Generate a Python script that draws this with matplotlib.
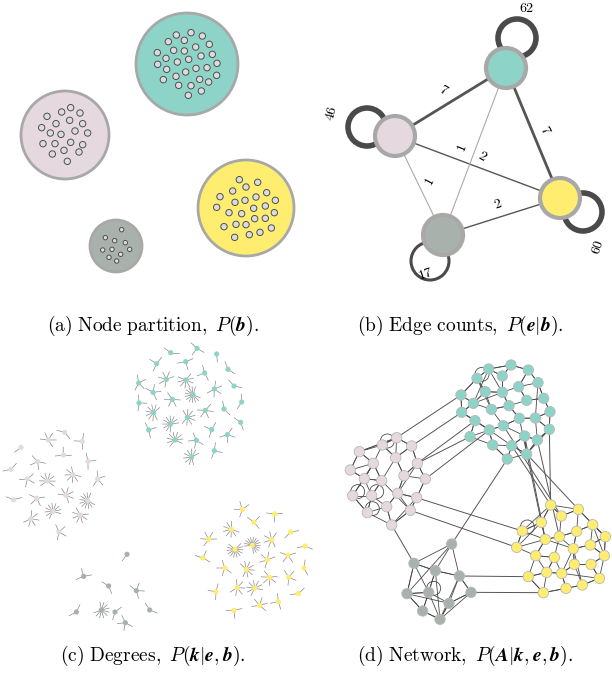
import numpy as np
import matplotlib
matplotlib.use("Agg")
import matplotlib.pyplot as plt
from matplotlib.patches import Circle

plt.rcParams["mathtext.fontset"] = "cm"
plt.rcParams["font.family"] = "DejaVu Serif"

cores = {"teal": "#8dd3c7", "pink": "#e6d8df", "yellow": "#ffed6f", "gray": "#a9b1ad"}
grupos = ["teal", "pink", "yellow", "gray"]

# (a) circulos dos grupos: centro x, centro y, raio (pixels)
circ_a = {"teal": (187, 64, 51), "pink": (65, 135, 44), "yellow": (246, 208, 48), "gray": (116, 246, 26)}
nos_a = {
    "teal": [(529,105),(573,98),(607,108),(505,125),(553,121),(628,133),(472,158),(521,151),(553,153),(587,141),
             (637,163),(498,175),(532,186),(566,178),(603,168),(473,193),(651,190),(500,208),(557,216),(588,205),
             (621,203),(528,229),(490,239),(599,238),(626,246),(650,226),(536,256),(573,257),(604,273),(565,286)],
    "pink": [(141,349),(185,336),(212,323),(240,339),(168,371),(209,361),(248,371),(125,383),(151,399),(183,403),
             (225,393),(263,399),(129,431),(165,431),(212,427),(248,434),(157,462),(192,451),(237,456),(202,484)],
    "yellow": [(718,539),(773,547),(738,561),(698,573),(800,578),(660,590),(705,607),(735,601),(768,591),(826,601),
               (650,622),(687,638),(725,641),(761,625),(796,618),(823,638),(708,673),(738,674),(764,656),(796,655),
               (672,680),(748,704),(780,697),(814,684),(704,712)],
    "gray": [(365,689),(316,713),(344,722),(376,728),(308,750),(336,748),(389,748),(362,763),(327,772),(350,783)],
}

# (b) contagens de arestas
pos_b = {"teal": (506, 68), "pink": (395, 136), "yellow": (560, 198), "gray": (443, 235)}
laco_b = {"teal": (517, 38, 62), "pink": (367, 127, 46), "yellow": (583, 212, 60), "gray": (430, 261, 17)}
arestas_b = [("teal", "pink", 7), ("teal", "yellow", 7), ("pink", "yellow", 2),
             ("teal", "gray", 1), ("pink", "gray", 1), ("gray", "yellow", 2)]
rotulos_b = [(527, 8, "62", 0), (331, 113, "46", 75), (598, 247, "60", 72), (426, 274, "17", 18),
             (444, 90, "7", -30), (545, 130, "7", -62), (462, 148, "1", 68), (483, 156, "2", -30),
             (430, 182, "1", 62), (498, 204, "2", 20)]

# (c) graus: x, y, grau (coordenadas do zoom)
nos_c = {
    "teal": [(512,68,2),(591,55,3),(650,72,1),(470,101,3),(557,95,3),(684,118,2),(614,129,3),(416,159,4),(499,148,6),
             (557,150,8),(459,187,4),(579,194,12),(643,177,5),(702,168,2),(517,208,5),(417,219,3),(461,248,9),
             (616,241,5),(672,237,2),(725,216,2),(562,262,8),(512,282,10),(722,277,2),(446,300,3),(635,299,3),
             (682,314,4),(525,330,9),(589,331,4),(643,362,3),(575,381,9)],
    "pink": [(194,307,2),(145,330,5),(247,334,3),(63,352,1),(190,375,3),(113,395,4),(264,394,3),(33,418,2),(82,447,4),
             (142,453,8),(219,434,7),(293,447,4),(41,509,2),(110,505,4),(198,496,6),(263,512,11),(93,566,6),
             (159,544,10),(241,555,7),(177,606,4)],
    "yellow": [(727,538,4),(824,552,3),(762,577,3),(694,598,8),(872,606,2),(626,628,5),(705,658,12),(757,646,14),
               (815,629,6),(915,648,2),(609,684,3),(674,714,4),(739,718,8),(802,690,5),(864,676,4),(912,714,2),
               (648,785,3),(711,773,6),(764,775,8),(808,742,6),(866,742,4),(895,791,2),(702,841,3),(779,826,5),
               (835,815,3)],
    "gray": [(381,673,1),(251,739,3),(326,768,2),(409,782,4),(229,846,2),(304,840,10),(449,840,2),(376,878,4),
             (345,846,2)],
}

# (d) rede
nos_d = {
    "teal": [(476,117),(543,105),(595,120),(441,145),(517,138),(566,170),(624,158),(393,195),(466,185),(517,187),
             (590,211),(641,205),(430,220),(484,238),(537,227),(395,247),(435,272),(568,265),(616,264),(660,245),
             (478,300),(520,287),(584,318),(622,330),(658,298),(420,320),(488,345),(545,347),(590,372),(532,387)],
    "pink": [(200,323),(157,345),(245,348),(88,365),(197,383),(130,400),(262,400),(61,420),(103,446),(155,452),
             (222,437),(286,447),(68,497),(125,497),(203,490),(260,503),(112,548),(170,530),(241,541),(185,585)],
    "yellow": [(662,525),(745,538),(694,558),(634,577),(788,584),(577,603),(646,628),(688,620),(740,604),(826,620),
               (560,652),(617,677),(673,682),(730,656),(781,645),(823,677),(595,740),(650,727),(695,730),(733,703),
               (783,703),(808,745),(640,788),(708,775),(757,765)],
    "gray": [(365,642),(252,700),(316,722),(388,738),(231,791),(296,787),(357,820),(423,787),(278,843),(330,868)],
}
entre_d = [("teal", 7, "pink", 0), ("teal", 15, "pink", 2), ("teal", 16, "pink", 6), ("teal", 29, "gray", 0),
           ("teal", 27, "yellow", 0), ("teal", 28, "yellow", 1), ("teal", 24, "yellow", 0), ("teal", 17, "yellow", 3),
           ("teal", 21, "yellow", 2), ("pink", 15, "yellow", 5), ("pink", 18, "yellow", 10), ("pink", 19, "gray", 1),
           ("gray", 3, "yellow", 16), ("gray", 7, "yellow", 22), ("pink", 11, "teal", 20), ("teal", 23, "yellow", 7),
           ("teal", 22, "yellow", 6), ("pink", 6, "teal", 25)]
lacos_d = [("pink", 1), ("pink", 12), ("pink", 16), ("pink", 13), ("gray", 5), ("yellow", 5), ("teal", 3)]

legendas = [(153, 326, r"$\mathrm{(a)\ Node\ partition,}\ P(\boldsymbol{b}).$"),
            (460, 326, r"$\mathrm{(b)\ Edge\ counts,}\ P(\boldsymbol{e}|\boldsymbol{b}).$"),
            (153, 656, r"$\mathrm{(c)\ Degrees,}\ P(\boldsymbol{k}|\boldsymbol{e},\boldsymbol{b}).$"),
            (465, 656, r"$\mathrm{(d)\ Network,}\ P(\boldsymbol{A}|\boldsymbol{k},\boldsymbol{e},\boldsymbol{b}).$")]

fig = plt.figure(figsize=(6.12, 6.83), dpi=100)
ax = fig.add_axes([0, 0, 1, 1])
ax.set_xlim(0, 612)
ax.set_ylim(683, 0)
ax.set_aspect("equal")
ax.axis("off")

# painel (a)
for g in grupos:
    cx, cy, r = circ_a[g]
    ax.add_patch(Circle((cx, cy), r, fc=cores[g], ec="#a8a8a8", lw=2, zorder=1))
    for x, y in nos_a[g]:
        rr = 2.2 if g == "gray" else 3.2
        ax.add_patch(Circle((x / 3, y / 3), rr, fc="#dcdcdc", ec="#505050", lw=0.7, zorder=2))

# painel (b)
for g in grupos:
    lx, ly, n = laco_b[g]
    ax.add_patch(Circle((lx, ly), 19, fill=False, ec="#4a4a4a", lw=4 if n > 20 else 2.2, zorder=1))
for a, b, n in arestas_b:
    (x1, y1), (x2, y2) = pos_b[a], pos_b[b]
    cor = "#555555" if n > 1 else "#aaaaaa"
    ax.plot([x1, x2], [y1, y2], color=cor, lw=0.6 + 0.2 * n, zorder=1)
for g in grupos:
    x, y = pos_b[g]
    ax.add_patch(Circle((x, y), 20, fc=cores[g], ec="#a8a8a8", lw=3, zorder=3))
for x, y, t, rot in rotulos_b:
    ax.text(x, y, "$%s$" % t, fontsize=10, rotation=rot, ha="center", va="center")

# painel (c)
i = 0
for g in grupos:
    for x, y, k in nos_c[g]:
        px, py = x / 3, 330 + y / 3
        ang0 = i * 2.39996
        for j in range(k):
            a = ang0 + j * (2 * np.pi / max(k, 1)) * 0.8
            ax.plot([px, px + 8 * np.cos(a)], [py, py - 8 * np.sin(a)], color="#8a8a8a", lw=0.5, zorder=1)
        ax.add_patch(Circle((px, py), 2.6, fc=cores[g], ec="none", zorder=2))
        i += 1

# painel (d)
pd_ = {g: np.array([(330 + x / 3, 330 + y / 3) for x, y in nos_d[g]]) for g in grupos}
for g in grupos:
    p = pd_[g]
    for a in range(len(p)):
        d = np.hypot(*(p - p[a]).T)
        for b in np.argsort(d)[1:4]:
            ax.plot([p[a, 0], p[b, 0]], [p[a, 1], p[b, 1]], color="#4a4a4a", lw=0.6, zorder=1)
        if a % 3 == 0:
            c = np.argsort(d)[min(7, len(p) - 1)]
            ax.plot([p[a, 0], p[c, 0]], [p[a, 1], p[c, 1]], color="#4a4a4a", lw=0.6, zorder=1)
for g1, i1, g2, i2 in entre_d:
    (x1, y1), (x2, y2) = pd_[g1][i1], pd_[g2][i2]
    ax.plot([x1, x2], [y1, y2], color="#555555", lw=0.7, zorder=1)
for g, k in lacos_d:
    x, y = pd_[g][k]
    ax.add_patch(Circle((x + 5, y - 4), 7, fill=False, ec="#4a4a4a", lw=0.6, zorder=1))
for g in grupos:
    for x, y in pd_[g]:
        ax.add_patch(Circle((x, y), 5.2, fc=cores[g], ec="#b8b8b8", lw=0.6, zorder=2))

for x, y, t in legendas:
    ax.text(x, y, t, fontsize=14, ha="center", va="center")

fig.savefig("out.png", dpi=100)
